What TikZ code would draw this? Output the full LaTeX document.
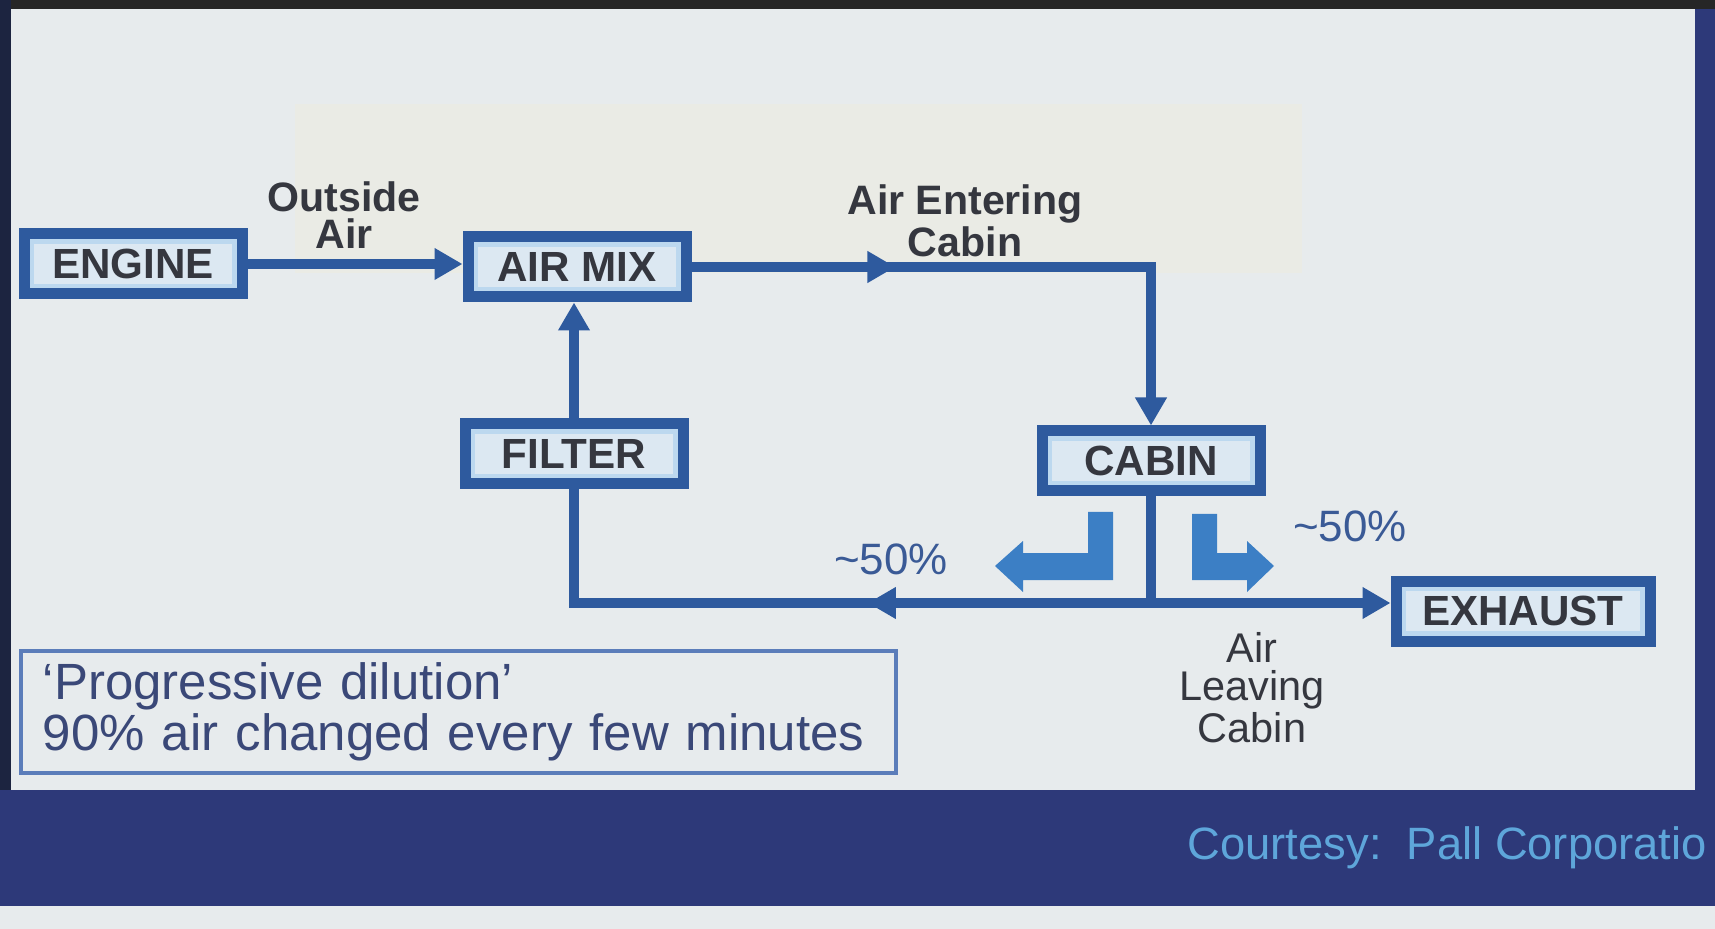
\documentclass[tikz,border=0pt]{standalone}
\usepackage{fontspec}
\setmainfont{Liberation Sans}
\usepackage{tikz}
\usetikzlibrary{arrows.meta,positioning,decorations.markings}

\definecolor{pagebg}{HTML}{E7EBED}
\definecolor{paleyel}{HTML}{EDEBDF}
\definecolor{navy}{HTML}{2D3979}
\definecolor{darkedge}{HTML}{1C2440}
\definecolor{flowblue}{HTML}{2E5A9E}
\definecolor{boxfill}{HTML}{DCE8F2}
\definecolor{boxglow}{HTML}{BCD8EF}
\definecolor{splitblue}{HTML}{3C7FC5}
\definecolor{labelgrey}{HTML}{35373F}
\definecolor{sharetext}{HTML}{3A5A96}
\definecolor{notetext}{HTML}{3A4878}
\definecolor{noteline}{HTML}{5B7DBA}
\definecolor{credittext}{HTML}{5EA6DA}

\begin{document}
\begin{tikzpicture}[x=0.1mm, y=-0.1mm,
  unit/.style={draw=flowblue, line width=1.1mm, fill=boxfill,
               minimum width=21.8mm, minimum height=6.0mm,
               path picture={\draw[boxglow, line width=2.0mm]
                 (path picture bounding box.south west) rectangle
                 (path picture bounding box.north east);},
               font=\fontsize{12}{14}\selectfont\bfseries, text=labelgrey},
  flowlabel/.style={font=\fontsize{11.7}{10.5}\selectfont\bfseries,
                    text=labelgrey, align=center},
  share/.style={font=\fontsize{12.5}{14}\selectfont, text=sharetext},
  flow/.style={flowblue, line width=0.95mm},
  flowtip/.style={-{Triangle[length=2.8mm,width=3.0mm]}},
  midtip/.style={postaction=decorate, decoration={markings,
      mark=at position #1 with {\arrow{Triangle[length=2.8mm,width=3.0mm]}}}},
]
\useasboundingbox (0,0) rectangle (1715,929);

% Hintergrund
\fill[pagebg] (0,0) rectangle (1715,929);
\fill[paleyel!55!pagebg] (295,104) rectangle (1302,273);
\fill[black!85] (0,0) rectangle (1715,9);
\fill[darkedge] (0,0) rectangle (11,790);
\fill[navy] (1695,9) rectangle (1715,790);
\fill[navy] (0,790) rectangle (1715,906);

% Stationen
\node[unit] (engine) at (133,264) {ENGINE};
\node[unit] (airmix) at (577,267) {AIR MIX};
\node[unit] (filter) at (574,454) {FILTER};
\node[unit] (cabin) at (1151,461) {CABIN};
\node[unit, minimum width=25.4mm] (exhaust) at (1523,611) {EXHAUST};
\coordinate (split) at (cabin.south |- 0,603);

% Luftwege
\draw[flow, flowtip] (engine.east) -- (engine.east -| airmix.west);
\draw[flow, flowtip, midtip=0.33] (airmix.east) -| (cabin.north);
\draw[flow, flowtip] (filter.north) -- (filter.north |- airmix.south);
\draw[flow] (cabin.south) -- (split);
\draw[flow, flowtip] (split) -- (split -| exhaust.west);
\draw[flow, midtip=0.41] (split) -| (filter.south);

% Aufteilung
\fill[splitblue] (1113,512) -- (1113,580) -- (1023,580) -- (1023,592)
  -- (995,566) -- (1023,541) -- (1023,553) -- (1088,553) -- (1088,512) -- cycle;
\fill[splitblue] (1192,514) -- (1192,580) -- (1247,580) -- (1247,592)
  -- (1274,566) -- (1247,541) -- (1247,553) -- (1217,553) -- (1217,514) -- cycle;

% Beschriftungen
\node[flowlabel] (outside) at (344,215) {Outside\\Air};
\node[flowlabel] (entering) at (965,221) {Air Entering\\Cabin};
\node[share] (leftshare) at (891,559) {\textasciitilde50\%};
\node[share] (rightshare) at (1350,526) {\textasciitilde50\%};
\node[font=\fontsize{11.8}{10.8}\selectfont, text=labelgrey, align=center]
  (leaving) at (1252,688) {Air\\Leaving\\Cabin};

% Hinweis
\node[draw=noteline, line width=0.4mm, anchor=north west, align=left,
      minimum width=87.5mm, minimum height=11.4mm, text width=83.1mm,
      inner xsep=2.2mm, text=notetext, font=\fontsize{14.5}{13.4}\selectfont]
  (note) at (19,649) {‘Progressive dilution’\\90\% air changed every few minutes};

\node[anchor=west, inner sep=0, text=credittext,
      font=\fontsize{12.9}{15}\selectfont]
  (credit) at (1187,848) {Courtesy:\ \ Pall Corporatio};
\end{tikzpicture}
\end{document}
